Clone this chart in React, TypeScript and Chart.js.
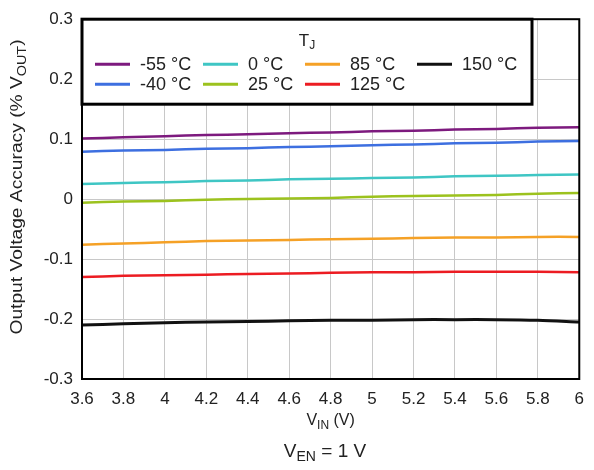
import React, { useEffect, useRef } from "react";
import { Chart, registerables } from "chart.js";

Chart.register(...registerables);

// ---- data ----
const VIN = [3.6, 3.8, 4.0, 4.2, 4.4, 4.6, 4.8, 5.0, 5.2, 5.4, 5.6, 5.8, 6.0];
const X_TICKS = [3.6, 3.8, 4.0, 4.2, 4.4, 4.6, 4.8, 5.0, 5.2, 5.4, 5.6, 5.8, 6.0];
const Y_TICKS = [-0.3, -0.2, -0.1, 0, 0.1, 0.2, 0.3];
const SERIES_LABELS = ["-55 °C", "-40 °C", "0 °C", "25 °C", "85 °C", "125 °C", "150 °C"];
const ACC_M55 = [0.101, 0.103, 0.105, 0.107, 0.108, 0.110, 0.111, 0.113, 0.114, 0.116, 0.117, 0.119, 0.120];
const ACC_M40 = [0.079, 0.081, 0.082, 0.084, 0.085, 0.087, 0.088, 0.090, 0.091, 0.093, 0.094, 0.096, 0.097];
const ACC_0 = [0.025, 0.027, 0.028, 0.030, 0.031, 0.033, 0.034, 0.035, 0.036, 0.038, 0.039, 0.040, 0.041];
const ACC_25 = [-0.006, -0.004, -0.003, -0.001, 0.0, 0.001, 0.002, 0.004, 0.005, 0.006, 0.007, 0.009, 0.010];
const ACC_85 = [-0.076, -0.074, -0.072, -0.070, -0.069, -0.068, -0.067, -0.066, -0.065, -0.064, -0.064, -0.063, -0.063];
const ACC_125 = [-0.130, -0.128, -0.127, -0.126, -0.125, -0.124, -0.123, -0.122, -0.122, -0.121, -0.121, -0.121, -0.122];
const ACC_150 = [-0.210, -0.208, -0.206, -0.205, -0.204, -0.203, -0.202, -0.202, -0.201, -0.201, -0.201, -0.202, -0.205];
const SERIES = [ACC_M55, ACC_M40, ACC_0, ACC_25, ACC_85, ACC_125, ACC_150];
const COLORS = ["#7d1a7e", "#3d6fe0", "#3fc6c4", "#9cc21e", "#f5a126", "#ec1c22", "#111111"];

const FONT = '"Liberation Sans", Arial, sans-serif';
const TEXT = "#222222";

type Part = { t: string; sub?: boolean };

function drawRich(ctx: CanvasRenderingContext2D, parts: Part[], cx: number, cy: number, size: number, align: "center" | "left" = "center") {
  const subSize = Math.round(size * 0.72);
  let total = 0;
  const widths = parts.map((p) => {
    ctx.font = `${p.sub ? subSize : size}px ${FONT}`;
    const w = ctx.measureText(p.t).width;
    total += w;
    return w;
  });
  let x = align === "center" ? cx - total / 2 : cx;
  ctx.textBaseline = "middle";
  ctx.textAlign = "left";
  parts.forEach((p, i) => {
    ctx.font = `${p.sub ? subSize : size}px ${FONT}`;
    ctx.fillText(p.t, x, p.sub ? cy + size * 0.28 : cy);
    x += widths[i];
  });
}

const decorPlugin = {
  id: "decor",
  afterDatasetsDraw(chart: any) {
    const ctx: CanvasRenderingContext2D = chart.ctx;
    const a = chart.chartArea;
    ctx.save();
    // frame
    ctx.strokeStyle = "#000";
    ctx.lineWidth = 2;
    ctx.strokeRect(a.left, a.top, a.right - a.left, a.bottom - a.top);

    // legend box
    const lx = a.left, ly = a.top, lw = 450, lh = 85;
    ctx.fillStyle = "#fff";
    ctx.fillRect(lx, ly, lw, lh);
    ctx.lineWidth = 3;
    ctx.strokeRect(lx, ly, lw, lh);
    ctx.fillStyle = TEXT;
    drawRich(ctx, [{ t: "T" }, { t: "J", sub: true }], lx + 225, ly + 22, 17);
    const colLine = [13, 121, 223, 335];
    const rowY = [45, 65];
    chart.data.datasets.forEach((ds: any, i: number) => {
      const c = Math.floor(i / 2), r = i % 2;
      const x0 = lx + colLine[c];
      const y0 = ly + rowY[r];
      ctx.strokeStyle = ds.borderColor;
      ctx.lineWidth = 3;
      ctx.beginPath();
      ctx.moveTo(x0, y0);
      ctx.lineTo(x0 + 35, y0);
      ctx.stroke();
      ctx.fillStyle = TEXT;
      ctx.font = `18px ${FONT}`;
      ctx.textAlign = "left";
      ctx.textBaseline = "middle";
      ctx.fillText(ds.label, x0 + 45, y0 + 1);
    });

    // axis titles
    ctx.fillStyle = TEXT;
    drawRich(ctx, [{ t: "V" }, { t: "IN", sub: true }, { t: " (V)" }], (a.left + a.right) / 2, 421, 16);
    drawRich(ctx, [{ t: "V" }, { t: "EN", sub: true }, { t: " = 1 V" }], 325, 452, 19);
    ctx.save();
    ctx.translate(18, 187);
    ctx.rotate(-Math.PI / 2);
    ctx.scale(1.2, 1);
    drawRich(ctx, [{ t: "Output Voltage Accuracy (% V" }, { t: "OUT", sub: true }, { t: ")" }], 0, 0, 16);
    ctx.restore();
    ctx.restore();
  },
};

function fmt(v: number) {
  return String(Number(v.toFixed(1)));
}

export default function App() {
  const ref = useRef<HTMLCanvasElement | null>(null);
  useEffect(() => {
    document.body.style.margin = "0";
    const canvas = ref.current!;
    const chart = new Chart(canvas, {
      type: "line",
      data: {
        datasets: SERIES.map((s, i) => ({
          label: SERIES_LABELS[i],
          data: s.map((y, j) => ({ x: VIN[j], y })),
          borderColor: COLORS[i],
          backgroundColor: COLORS[i],
          borderWidth: i === 6 ? 3 : 2.5,
          pointRadius: 0,
          tension: 0.3,
          fill: false,
        })),
      },
      options: {
        animation: false,
        responsive: false,
        devicePixelRatio: 1,
        layout: { padding: { left: 0, top: 17, right: 3, bottom: 0 } },
        plugins: { legend: { display: false }, tooltip: { enabled: false }, title: { display: false } },
        scales: {
          x: {
            type: "linear",
            min: 3.6,
            max: 6.0,
            afterBuildTicks: (s: any) => {
              s.ticks = X_TICKS.map((v) => ({ value: v }));
            },
            afterFit: (s: any) => {
              s.height = 91;
            },
            ticks: {
              autoSkip: false,
              maxRotation: 0,
              padding: 10,
              color: TEXT,
              font: { family: FONT, size: 17 },
              callback: (v: any) => fmt(Number(v)),
            },
            grid: { color: "#c8c8c8", lineWidth: 1, drawTicks: false },
            border: { color: "#000", width: 2 },
          },
          y: {
            type: "linear",
            min: -0.3,
            max: 0.3,
            afterBuildTicks: (s: any) => {
              s.ticks = Y_TICKS.map((v) => ({ value: v }));
            },
            afterFit: (s: any) => {
              s.width = 82;
            },
            ticks: {
              padding: 9,
              color: TEXT,
              font: { family: FONT, size: 17 },
              callback: (v: any) => fmt(Number(v)),
            },
            grid: { color: "#c8c8c8", lineWidth: 1, drawTicks: false },
            border: { color: "#000", width: 2 },
          },
        },
      },
      plugins: [decorPlugin],
    });
    return () => chart.destroy();
  }, []);
  return (
    <div style={{ position: "absolute", left: 0, top: 0, width: 594, height: 470, background: "#fff" }}>
      <canvas ref={ref} width={594} height={470} />
    </div>
  );
}
